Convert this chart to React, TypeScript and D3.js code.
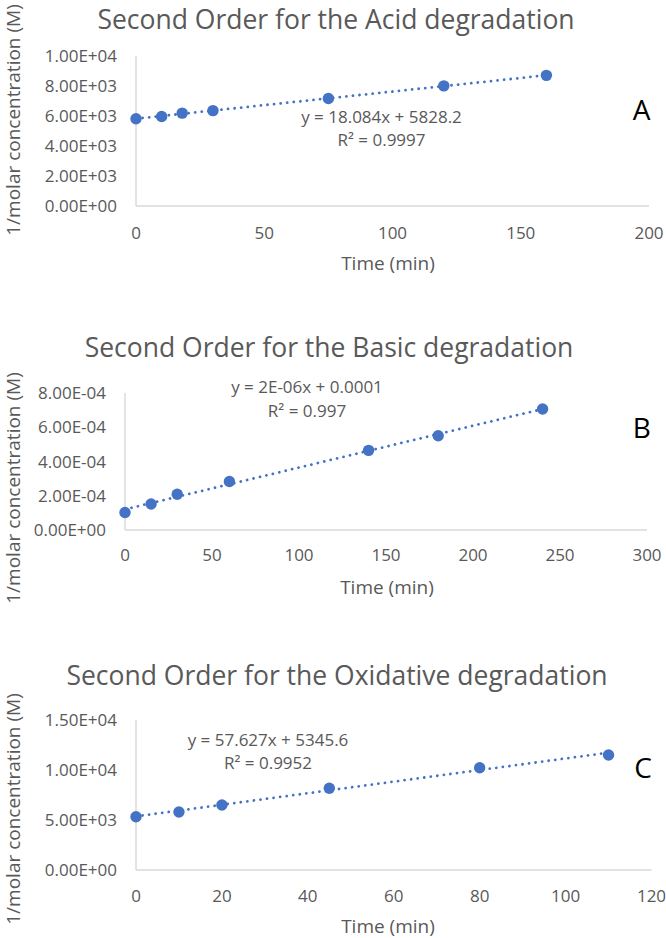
import React from "react";
import * as d3 from "d3";

// ---- Data ----
const acidTimes = [0, 10, 18, 30, 75, 120, 160];
const acidValues = [5820, 5970, 6190, 6360, 7170, 8010, 8710];
const acidXTicks = [0, 50, 100, 150, 200];
const acidYTicks = [0, 2000, 4000, 6000, 8000, 10000];
const acidEquation = "y = 18.084x + 5828.2";
const acidR2 = "R² = 0.9997";

const basicTimes = [0, 15, 30, 60, 140, 180, 240];
const basicValues = [1.02e-4, 1.52e-4, 2.09e-4, 2.83e-4, 4.65e-4, 5.5e-4, 7.07e-4];
const basicXTicks = [0, 50, 100, 150, 200, 250, 300];
const basicYTicks = [0, 2e-4, 4e-4, 6e-4, 8e-4];
const basicEquation = "y = 2E-06x + 0.0001";
const basicR2 = "R² = 0.997";

const oxTimes = [0, 10, 20, 45, 80, 110];
const oxValues = [5330, 5800, 6500, 8170, 10230, 11500];
const oxXTicks = [0, 20, 40, 60, 80, 100, 120];
const oxYTicks = [0, 5000, 10000, 15000];
const oxEquation = "y = 57.627x + 5345.6";
const oxR2 = "R² = 0.9952";

const titles = [
  "Second Order for the Acid degradation",
  "Second Order for the Basic degradation",
  "Second Order for the Oxidative degradation",
];
const letters = ["A", "B", "C"];
const xAxisTitle = "Time (min)";
const yAxisTitle = "1/molar concentration (M)";

// ---- Style ----
const FONT = "'Open Sans', 'Noto Sans', sans-serif";
const TEXT = "#595959";
const AXIS = "#d9d9d9";
const BLUE = "#4472C4";

function fmtSci(v: number): string {
  const [m, e] = v.toExponential(2).split("e");
  const sign = e[0] === "-" ? "-" : "+";
  const digits = e.replace(/[+-]/, "").padStart(2, "0");
  return `${m}E${sign}${digits}`;
}

function regression(xs: number[], ys: number[]) {
  const mx = d3.mean(xs) as number;
  const my = d3.mean(ys) as number;
  let sxy = 0;
  let sxx = 0;
  xs.forEach((x, i) => {
    sxy += (x - mx) * (ys[i] - my);
    sxx += (x - mx) * (x - mx);
  });
  const slope = sxy / sxx;
  return { slope, intercept: my - slope * mx };
}

type PanelProps = {
  times: number[];
  values: number[];
  xTicks: number[];
  yTicks: number[];
  equation: string;
  r2: string;
  title: string;
  letter: string;
  layout: {
    x0: number; x1: number; yTop: number; yBottom: number;
    titleX: number; titleY: number;
    ylabelY: number;
    eqX: number; eqY: number; r2Y: number;
    letterX: number; letterY: number;
    xTickY: number; xTitleX: number; xTitleY: number;
  };
};

function Panel({ times, values, xTicks, yTicks, equation, r2, title, letter, layout: L }: PanelProps) {
  const x = d3.scaleLinear().domain([xTicks[0], xTicks[xTicks.length - 1]]).range([L.x0, L.x1]);
  const y = d3.scaleLinear().domain([yTicks[0], yTicks[yTicks.length - 1]]).range([L.yBottom, L.yTop]);
  const { slope, intercept } = regression(times, values);
  const tx0 = d3.min(times) as number;
  const tx1 = d3.max(times) as number;
  const line = d3.line<number>().x((t) => x(t)).y((t) => y(slope * t + intercept));
  return (
    <g fontFamily={FONT}>
      <text x={L.titleX} y={L.titleY} textAnchor="middle" fontSize={26.5} fill={TEXT}>{title}</text>
      <text
        transform={`translate(${13.8},${L.ylabelY}) rotate(-90)`}
        textAnchor="middle" dy="0.35em" fontSize={19} fill={TEXT}
      >{yAxisTitle}</text>
      {yTicks.map((t) => (
        <text key={"y" + t} x={L.x0 - 19} y={y(t)} dy="0.36em" textAnchor="end" fontSize={17} fill={TEXT}>{fmtSci(t)}</text>
      ))}
      {xTicks.map((t) => (
        <text key={"x" + t} x={x(t)} y={L.xTickY} dy="0.36em" textAnchor="middle" fontSize={17} fill={TEXT}>{t}</text>
      ))}
      <line x1={L.x0} x2={L.x0} y1={L.yTop} y2={L.yBottom} stroke={AXIS} strokeWidth={1.4} />
      <line x1={L.x0} x2={L.x1} y1={L.yBottom} y2={L.yBottom} stroke={AXIS} strokeWidth={1.4} />
      <text x={L.xTitleX} y={L.xTitleY} dy="0.36em" textAnchor="middle" fontSize={19} fill={TEXT}>{xAxisTitle}</text>
      <path
        d={line([tx0, tx1]) || ""}
        fill="none" stroke={BLUE} strokeWidth={2.8}
        strokeDasharray="0.01 6.6" strokeLinecap="round"
      />
      {times.map((t, i) => (
        <circle key={"p" + i} cx={x(t)} cy={y(values[i])} r={5.7} fill={BLUE} />
      ))}
      <text x={L.eqX} y={L.eqY} dy="0.36em" textAnchor="middle" fontSize={17} fill={TEXT}>{equation}</text>
      <text x={L.eqX} y={L.r2Y} dy="0.36em" textAnchor="middle" fontSize={17} fill={TEXT}>{r2}</text>
      <text x={L.letterX} y={L.letterY} dy="0.36em" textAnchor="middle" fontSize={28} fill="#000">{letter}</text>
    </g>
  );
}

export default function App() {
  return (
    <svg
      width={666}
      height={938}
      style={{ position: "absolute", left: 0, top: 0, background: "#fff" }}
    >
      <rect width={666} height={938} fill="#fff" />
      <Panel
        times={acidTimes} values={acidValues} xTicks={acidXTicks} yTicks={acidYTicks}
        equation={acidEquation} r2={acidR2} title={titles[0]} letter={letters[0]}
        layout={{
          x0: 136, x1: 649, yTop: 56, yBottom: 206,
          titleX: 336, titleY: 28.5, ylabelY: 120,
          eqX: 381.5, eqY: 117, r2Y: 140,
          letterX: 641.7, letterY: 110,
          xTickY: 233, xTitleX: 388, xTitleY: 263,
        }}
      />
      <Panel
        times={basicTimes} values={basicValues} xTicks={basicXTicks} yTicks={basicYTicks}
        equation={basicEquation} r2={basicR2} title={titles[1]} letter={letters[1]}
        layout={{
          x0: 125, x1: 647, yTop: 393, yBottom: 530,
          titleX: 329, titleY: 356.5, ylabelY: 488,
          eqX: 307, eqY: 387, r2Y: 411,
          letterX: 641.7, letterY: 428,
          xTickY: 555, xTitleX: 387, xTitleY: 587,
        }}
      />
      <Panel
        times={oxTimes} values={oxValues} xTicks={oxXTicks} yTicks={oxYTicks}
        equation={oxEquation} r2={oxR2} title={titles[2]} letter={letters[2]}
        layout={{
          x0: 136, x1: 651.5, yTop: 720, yBottom: 870,
          titleX: 337, titleY: 684.5, ylabelY: 809,
          eqX: 268, eqY: 740, r2Y: 762.5,
          letterX: 643, letterY: 768,
          xTickY: 896, xTitleX: 388, xTitleY: 926,
        }}
      />
    </svg>
  );
}
